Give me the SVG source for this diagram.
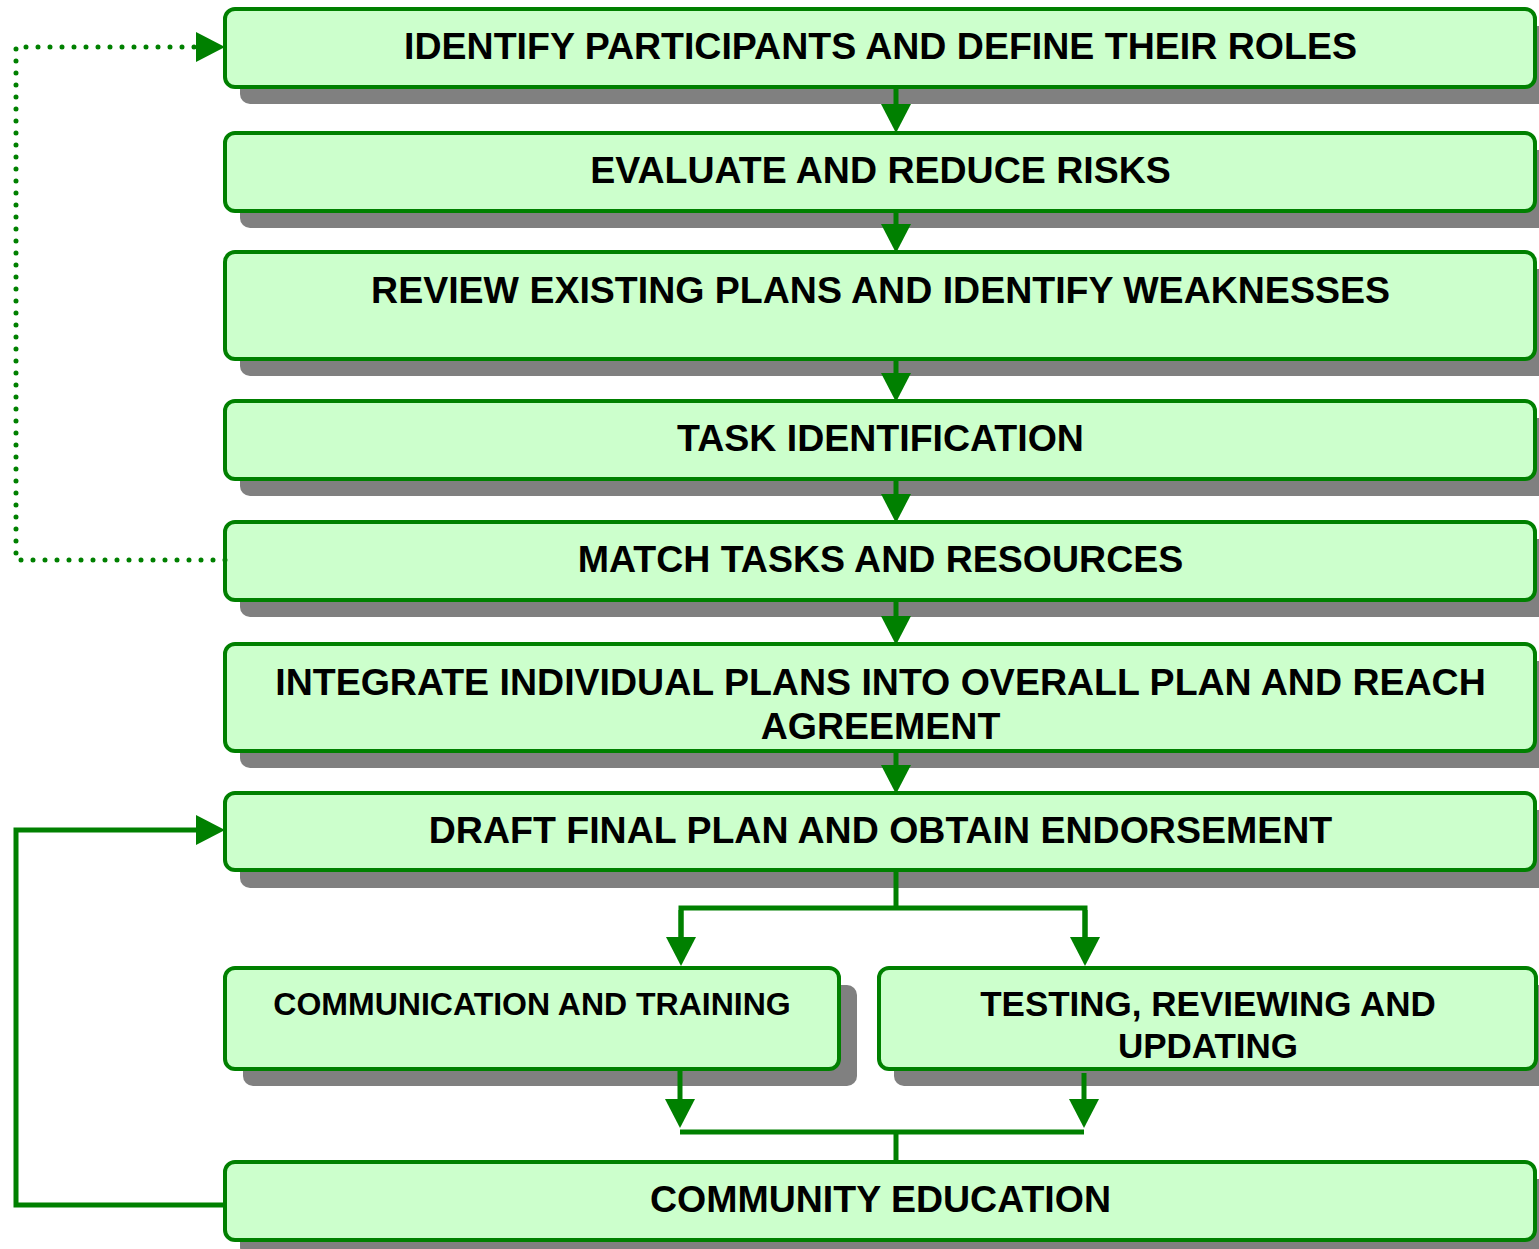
<svg xmlns="http://www.w3.org/2000/svg" width="1539" height="1249" viewBox="0 0 1539 1249">
<style>
.box{fill:#CCFFCC;stroke:#008000;stroke-width:4}
.sh{fill:#808080}
.t{font-family:"Liberation Sans",Arial,sans-serif;font-weight:bold;font-size:37.5px;fill:#000;text-anchor:middle}
.ts{font-size:32px}
.tm{font-size:35px}
.c{fill:none;stroke:#008000;stroke-width:5}
.d{fill:none;stroke:#008000;stroke-width:5;stroke-linecap:round;stroke-dasharray:0 12}
</style>
<defs>
<marker id="ah" markerUnits="userSpaceOnUse" markerWidth="30" markerHeight="30" refX="0" refY="15" orient="auto" viewBox="0 0 30 30">
<path d="M0,0 L29,15 L0,30 z" fill="#008000"/>
</marker>
</defs>
<rect width="1539" height="1249" fill="#fff"/>
<g id="n1"><rect class="sh" x="240" y="26" width="1320" height="78" rx="10"/><rect class="box" x="225" y="9" width="1310" height="78" rx="10"/><text class="t" x="880.5" y="59">IDENTIFY PARTICIPANTS AND DEFINE THEIR ROLES</text></g>
<g id="n2"><rect class="sh" x="240" y="150" width="1320" height="78" rx="10"/><rect class="box" x="225" y="133" width="1310" height="78" rx="10"/><text class="t" x="880.5" y="183">EVALUATE AND REDUCE RISKS</text></g>
<g id="n3"><rect class="sh" x="240" y="269" width="1320" height="107" rx="10"/><rect class="box" x="225" y="252" width="1310" height="107" rx="10"/><text class="t" x="880.5" y="303">REVIEW EXISTING PLANS AND IDENTIFY WEAKNESSES</text></g>
<g id="n4"><rect class="sh" x="240" y="418" width="1320" height="78" rx="10"/><rect class="box" x="225" y="401" width="1310" height="78" rx="10"/><text class="t" x="880.5" y="451">TASK IDENTIFICATION</text></g>
<g id="n5"><rect class="sh" x="240" y="539" width="1320" height="78" rx="10"/><rect class="box" x="225" y="522" width="1310" height="78" rx="10"/><text class="t" x="880.5" y="572">MATCH TASKS AND RESOURCES</text></g>
<g id="n6"><rect class="sh" x="240" y="661" width="1320" height="107" rx="10"/><rect class="box" x="225" y="644" width="1310" height="107" rx="10"/><text class="t" x="880.5" y="695">INTEGRATE INDIVIDUAL PLANS INTO OVERALL PLAN AND REACH</text><text class="t" x="880.5" y="739">AGREEMENT</text></g>
<g id="n7"><rect class="sh" x="240" y="810" width="1320" height="78" rx="10"/><rect class="box" x="225" y="793" width="1310" height="77" rx="10"/><text class="t" x="880.5" y="843">DRAFT FINAL PLAN AND OBTAIN ENDORSEMENT</text></g>
<g id="n8a"><rect class="sh" x="243" y="985" width="614" height="101" rx="10"/><rect class="box" x="225" y="968" width="614" height="101" rx="10"/><text class="t ts" x="532" y="1015">COMMUNICATION AND TRAINING</text></g>
<g id="n8b"><rect class="sh" x="894" y="985" width="660" height="101" rx="10"/><rect class="box" x="879" y="968" width="657" height="101" rx="10"/><text class="t tm" x="1208" y="1016">TESTING, REVIEWING AND</text><text class="t tm" x="1208" y="1058">UPDATING</text></g>
<g id="n9"><rect class="sh" x="240" y="1179" width="1320" height="78" rx="10"/><rect class="box" x="225" y="1162" width="1310" height="78" rx="10"/><text class="t" x="880.5" y="1212">COMMUNITY EDUCATION</text></g>
<g id="connectors">
<path class="c" d="M896,87 V104" marker-end="url(#ah)"/>
<path class="c" d="M896,211 V224" marker-end="url(#ah)"/>
<path class="c" d="M896,359 V373" marker-end="url(#ah)"/>
<path class="c" d="M896,479 V494" marker-end="url(#ah)"/>
<path class="c" d="M896,600 V616" marker-end="url(#ah)"/>
<path class="c" d="M896,751 V765" marker-end="url(#ah)"/>
<path class="c" d="M896,870 V908"/>
<path class="c" d="M681,937 V908 H1085 V937"/>
<path class="c" d="M681,910 V937" marker-end="url(#ah)"/>
<path class="c" d="M1085,910 V937" marker-end="url(#ah)"/>
<path class="c" d="M680,1069 V1099" marker-end="url(#ah)"/>
<path class="c" d="M1084,1073 V1099" marker-end="url(#ah)"/>
<path class="c" d="M680,1132 H1084"/>
<path class="c" d="M896,1132 V1162"/>
<path class="c" d="M225,1205 H16 V830 H196" marker-end="url(#ah)"/>
<path class="d" d="M225,560 H16 V47 H196"/>
<path d="M196,32 L225,47 L196,62 z" fill="#008000"/>
</g>
</svg>
